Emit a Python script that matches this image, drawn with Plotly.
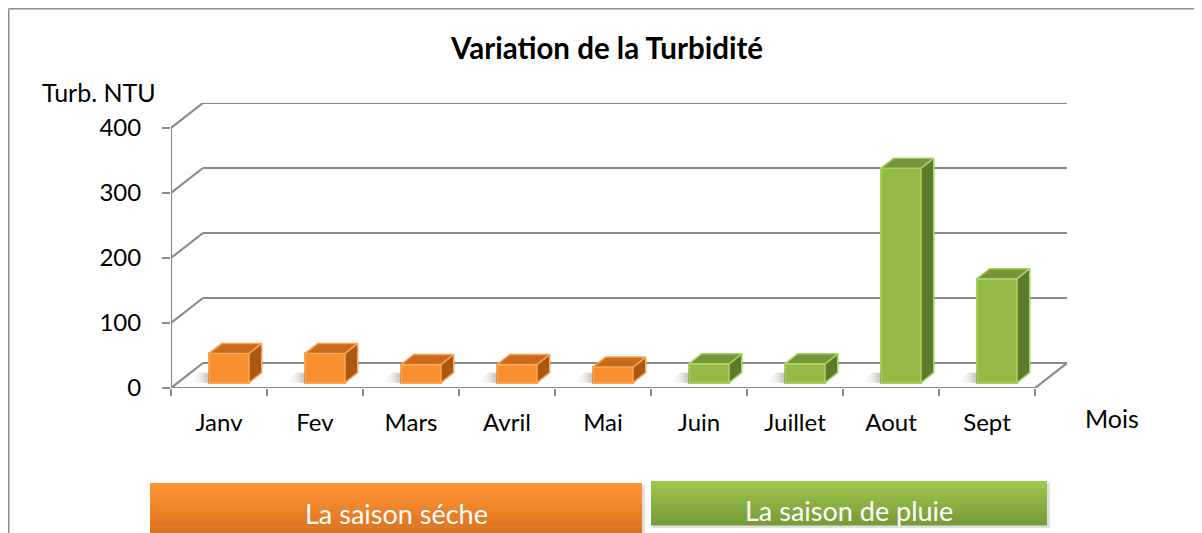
import plotly.graph_objects as go

# ---------------- data ----------------
months = ["Janv", "Fev", "Mars", "Avril", "Mai", "Juin", "Juillet", "Aout", "Sept"]
turbidity = [45, 45, 28, 28, 24, 29, 29, 330, 160]
dry_months = ["Janv", "Fev", "Mars", "Avril", "Mai"]
rain_months = ["Juin", "Juillet", "Aout", "Sept"]
y_ticks = [0, 100, 200, 300, 400]
season_labels = ["La saison séche", "La saison de pluie"]
title_text = "Variation de la Turbidité"
y_title = "Turb. NTU"
x_title = "Mois"

# ---------------- geometry / style ----------------
OFF = 8                      # page body margin
W, H = 1202 - OFF, 533 - OFF  # figure size
FONT = "Lato"
GRID = "#8A8A8A"
PX_CAT = 96.0          # pixels per category
PX_UNIT = 0.65         # pixels per turbidity unit
X0_PX, Y0_PX = 171, 388
DEPTH_X = 32 / PX_CAT
DEPTH_Y = 25 / PX_UNIT
BAR_BASE = 5.3 / PX_UNIT
BAR_OFFSET = -10 / PX_CAT
BAR_WIDTH = 40 / PX_CAT
BAR_DX = 12.7 / PX_CAT
BAR_DY = 10 / PX_UNIT

def px_x(p): return (p - OFF) / W
def px_y(p): return 1 - (p - OFF) / H

n = len(months)
x_max = n - 0.5 + DEPTH_X
y_max = max(y_ticks) + DEPTH_Y
dom_x = [px_x(X0_PX), px_x(X0_PX + (x_max + 0.5) * PX_CAT)]
dom_y = [px_y(Y0_PX), px_y(Y0_PX - y_max * PX_UNIT)]

STYLE = {
    "dry": dict(front="#F88F2F", top="#C96A1C", side="#A95914", edge="#FBA553"),
    "rain": dict(front="#93BB45", top="#74963A", side="#5B7B2C", edge="#A9CF5E"),
}

fig = go.Figure()

# ---------------- walls, floor, grid (shapes below traces) ----------------
shapes = []
def seg(x0, y0, x1, y1, color=GRID, w=2.2):
    shapes.append(dict(type="line", xref="x", yref="y", x0=x0, y0=y0, x1=x1, y1=y1,
                       line=dict(color=color, width=w), layer="below"))

for v in y_ticks:
    seg(-0.5, v, -0.5 + DEPTH_X, v + DEPTH_Y)
    seg(-0.5 + DEPTH_X, v + DEPTH_Y, x_max, v + DEPTH_Y)
seg(-0.5, 0, n - 0.5, 0)
seg(n - 0.5, 0, x_max, DEPTH_Y)
seg(-0.5, 0, -0.5, max(y_ticks))

# ---------------- bars ----------------
def add_season(key, names):
    idx = [months.index(m) for m in names]
    vals = [turbidity[i] for i in idx]
    st = STYLE[key]
    for i, v in zip(idx, vals):
        xl = i + BAR_OFFSET
        fig.add_trace(go.Scatter(
            x=[xl - 0.22, xl, xl, xl - 0.22 + BAR_DX, xl - 0.22],
            y=[BAR_BASE, BAR_BASE, BAR_BASE + BAR_DY, BAR_BASE + BAR_DY, BAR_BASE],
            mode="lines", line=dict(width=0), fill="toself",
            fillgradient=dict(type="horizontal",
                              colorscale=[[0, "rgba(255,255,255,0)"], [1, "rgba(130,130,130,0.5)"]]),
            hoverinfo="skip", showlegend=False))
    fig.add_trace(go.Bar(
        x=idx, y=vals, base=BAR_BASE, offset=BAR_OFFSET, width=BAR_WIDTH,
        marker=dict(color=st["front"], line=dict(color=st["edge"], width=2)),
        hovertext=names, showlegend=False))
    tx, ty, sx, sy = [], [], [], []
    for i, v in zip(idx, vals):
        xl = i + BAR_OFFSET
        xr = xl + BAR_WIDTH
        b, t = BAR_BASE, BAR_BASE + v
        tx += [xl, xl + BAR_DX, xr + BAR_DX, xr, xl, None]
        ty += [t, t + BAR_DY, t + BAR_DY, t, t, None]
        sx += [xr, xr + BAR_DX, xr + BAR_DX, xr, xr, None]
        sy += [b, b + BAR_DY, t + BAR_DY, t, b, None]
    fig.add_trace(go.Scatter(x=sx, y=sy, mode="lines", fill="toself", fillcolor=st["side"],
                             line=dict(color=st["edge"], width=1.5), hoverinfo="skip", showlegend=False))
    fig.add_trace(go.Scatter(x=tx, y=ty, mode="lines", fill="toself", fillcolor=st["top"],
                             line=dict(color=st["edge"], width=1.5), hoverinfo="skip", showlegend=False))

add_season("dry", dry_months)
add_season("rain", rain_months)

# ---------------- season boxes (bottom legend) ----------------
def mix(a, b, t):
    a = [int(a[k:k + 2], 16) for k in (1, 3, 5)]
    b = [int(b[k:k + 2], 16) for k in (1, 3, 5)]
    return "rgb(%d,%d,%d)" % tuple(round(a[j] + (b[j] - a[j]) * t) for j in range(3))

def season_box(x0, x1, y0, y1, c_top, c_bot, label, text_y):
    steps = 14
    shapes.append(dict(type="rect", xref="paper", yref="paper",
                       x0=px_x(x0 + 2), x1=px_x(x1 + 3), y0=px_y(y1 + 3), y1=px_y(y0 + 2),
                       fillcolor="rgba(0,0,0,0.12)", line=dict(width=0), layer="above"))
    for k in range(steps):
        a = y0 + (y1 - y0) * k / steps
        b = y0 + (y1 - y0) * (k + 1) / steps
        shapes.append(dict(type="rect", xref="paper", yref="paper",
                           x0=px_x(x0), x1=px_x(x1), y0=px_y(b + 0.5), y1=px_y(a),
                           fillcolor=mix(c_top, c_bot, k / (steps - 1)), line=dict(width=0),
                           layer="above"))
    fig.add_annotation(x=px_x((x0 + x1) / 2), y=px_y(text_y), xref="paper", yref="paper",
                       text=label, showarrow=False, xanchor="center", yanchor="middle",
                       font=dict(family=FONT, size=27, color="white"))

season_box(150, 642, 483, 545, "#FF9432", "#D26C1C", season_labels[0], 513)
season_box(651, 1047, 481, 525, "#9DC64B", "#789C38", season_labels[1], 510)

# outer frame (top and left edges visible)
shapes.append(dict(type="line", xref="paper", yref="paper", x0=0.7 / W, y0=1 - 0.7 / H, x1=1.0, y1=1 - 0.7 / H,
                   line=dict(color="#8E8E8E", width=1.5)))
shapes.append(dict(type="line", xref="paper", yref="paper", x0=0.7 / W, y0=1 - 0.7 / H, x1=0.7 / W, y1=0,
                   line=dict(color="#8E8E8E", width=1.5)))

# axis titles
fig.add_annotation(x=px_x(99), y=px_y(92), xref="paper", yref="paper", text=y_title,
                   showarrow=False, xanchor="center", yanchor="middle",
                   font=dict(family=FONT, size=25, color="black"))
fig.add_annotation(x=px_x(1112), y=px_y(418), xref="paper", yref="paper", text=x_title,
                   showarrow=False, xanchor="center", yanchor="middle",
                   font=dict(family=FONT, size=25, color="black"))

fig.update_layout(
    width=W, height=H,
    margin=dict(l=0, r=0, t=0, b=0),
    paper_bgcolor="white", plot_bgcolor="white",
    shapes=shapes,
    bargap=0,
    title=dict(text="<b>%s</b>" % title_text, x=px_x(607), xref="container", xanchor="center",
               y=px_y(49), yref="container", yanchor="middle",
               font=dict(family=FONT, size=29.5, color="black")),
    xaxis=dict(domain=dom_x, range=[-0.5, x_max], showgrid=False, zeroline=False, showline=False,
               tickmode="array", tickvals=list(range(n)), ticktext=months, ticks="",
               ticklabelstandoff=18, tickfont=dict(family=FONT, size=24, color="black"),
               minor=dict(tickmode="array", tickvals=[i - 0.5 for i in range(n + 1)],
                          ticks="outside", ticklen=7, tickcolor=GRID, tickwidth=2),
               automargin=False, fixedrange=True),
    yaxis=dict(domain=dom_y, range=[0, y_max], showgrid=False, zeroline=False, showline=False,
               tickmode="array", tickvals=y_ticks, ticktext=[str(v) for v in y_ticks],
               ticks="outside", ticklen=8, tickcolor=GRID, tickwidth=2, ticklabelstandoff=16,
               tickfont=dict(family=FONT, size=24, color="black"), automargin=False, fixedrange=True),
    font=dict(family=FONT),
)

fig.write_html("out.html")
